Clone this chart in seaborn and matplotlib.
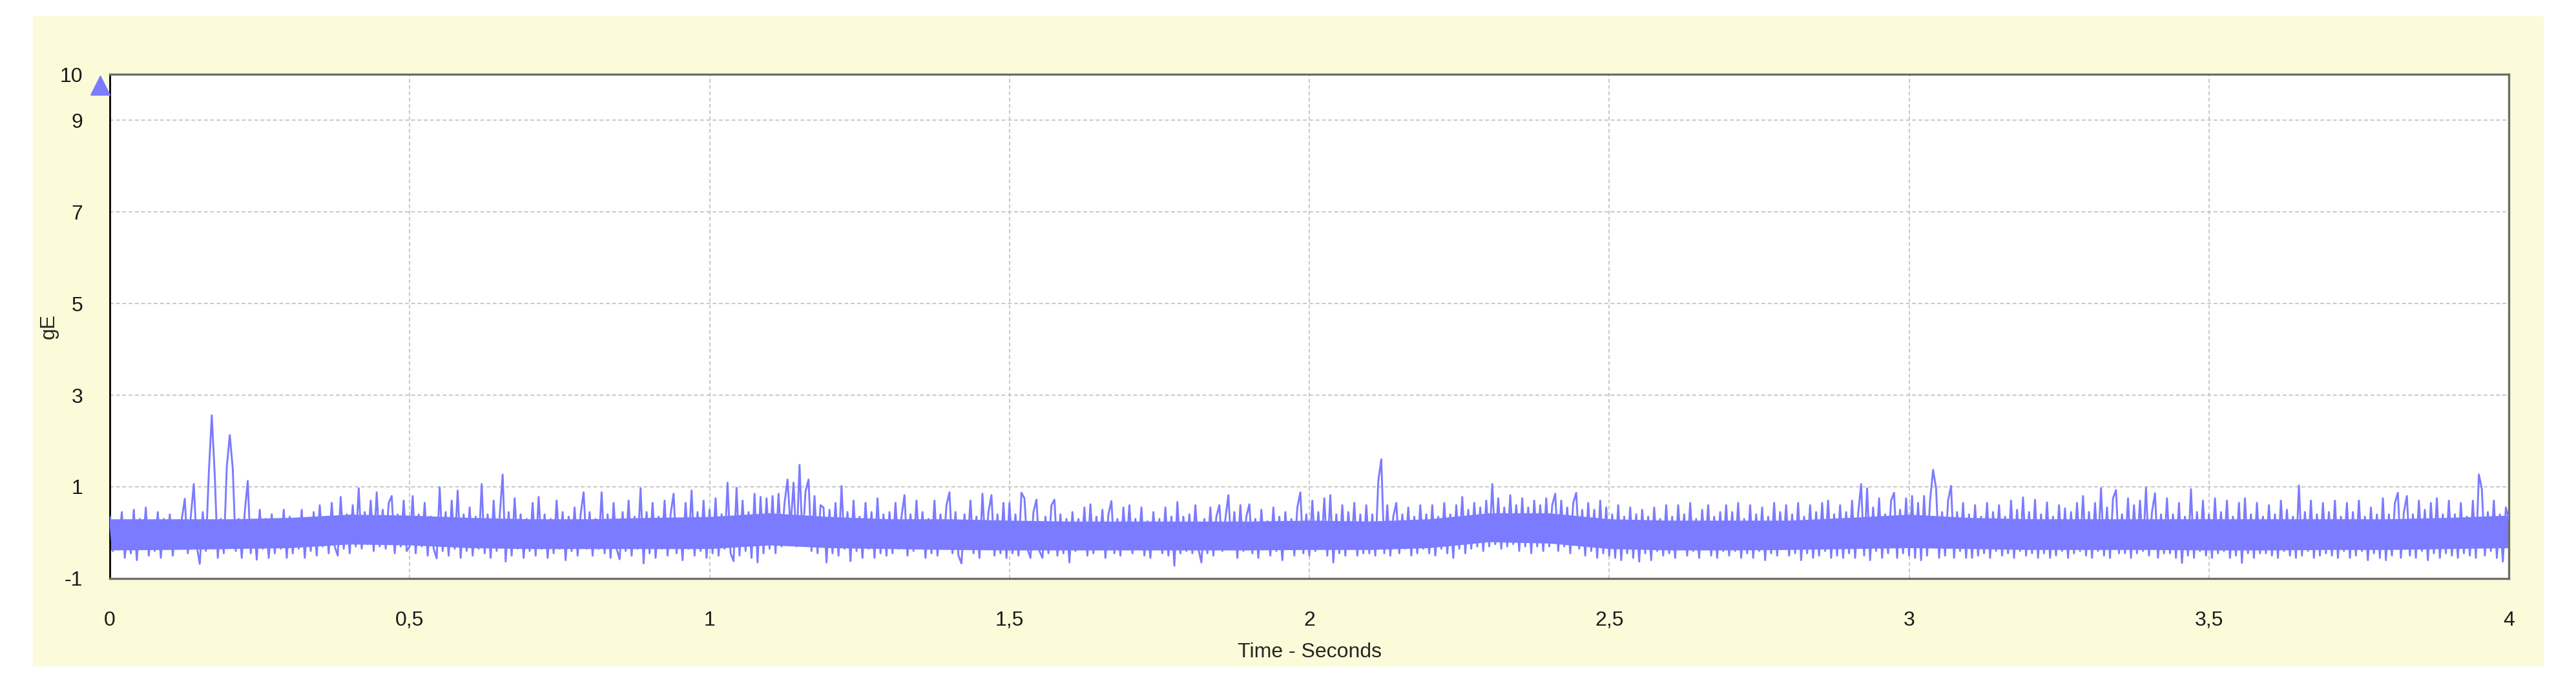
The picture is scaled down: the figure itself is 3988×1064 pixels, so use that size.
import numpy as np
import pandas as pd
import seaborn as sns
import matplotlib.pyplot as plt
from matplotlib.patches import Rectangle

# gE envelope signal, 0-4 s, one value every 5 ms
trace = [
    0.35, -0.40, 0.25, -0.30, 0.45, -0.55, 0.20, -0.45, 0.50, -0.60, 0.30, -0.35, 0.55, -0.50, 0.25, -0.40, 0.45, -0.55, 0.30, -0.35,  # 0.0
    0.40, -0.50, 0.20, -0.35, 0.30, 0.74, -0.45, 0.35, 1.06, -0.30, -0.68, 0.45, -0.40, 1.28, 2.56, 1.25, -0.55, 0.30, -0.45, 1.43,  # 0.1
    2.13, 1.40, -0.40, 0.30, -0.55, 0.45, 1.13, -0.45, 0.25, -0.59, 0.50, -0.35, 0.30, -0.55, 0.40, -0.45, 0.25, -0.35, 0.50, -0.55,  # 0.2
    0.35, -0.45, 0.25, -0.35, 0.50, -0.55, 0.30, -0.40, 0.45, -0.50, 0.60, -0.30, 0.35, -0.45, 0.65, -0.30, -0.50, 0.78, -0.35, 0.40,  # 0.3
    -0.45, 0.60, -0.30, 0.97, -0.35, 0.45, -0.25, 0.70, -0.40, 0.88, -0.30, 0.50, -0.35, 0.65, 0.80, -0.45, 0.40, -0.30, 0.70, -0.40,  # 0.4
    -0.30, 0.80, -0.45, 0.40, -0.30, 0.65, -0.50, 0.35, -0.35, -0.56, 0.99, -0.40, 0.45, -0.50, 0.70, -0.35, 0.92, -0.55, 0.40, -0.40,  # 0.5
    0.55, -0.50, 0.35, -0.35, 1.06, -0.45, 0.40, -0.55, 0.70, -0.40, 0.35, 1.27, -0.63, 0.45, -0.50, 0.75, -0.35, 0.40, -0.55, 0.30,  # 0.6
    -0.40, 0.65, -0.50, 0.78, -0.35, 0.40, -0.55, 0.30, -0.45, 0.70, -0.35, 0.45, -0.60, 0.35, -0.40, 0.55, -0.50, 0.40, 0.88, -0.35,  # 0.7
    0.45, -0.50, 0.30, -0.35, 0.88, -0.45, 0.40, -0.55, 0.65, -0.35, -0.58, 0.45, -0.40, 0.70, -0.50, 0.35, -0.35, 0.97, -0.67, 0.45,  # 0.8
    -0.45, 0.65, -0.55, 0.35, -0.35, 0.70, -0.50, 0.40, 0.85, -0.45, 0.30, -0.60, 0.65, -0.35, 0.92, -0.50, 0.45, -0.40, 0.70, -0.55,  # 0.9
    0.50, -0.45, 0.75, -0.50, 0.40, -0.35, 1.09, -0.45, -0.62, 0.98, -0.50, 0.70, -0.40, 0.45, -0.55, 0.85, -0.65, 0.78, -0.45, 0.75,  # 1.0
    -0.35, 0.80, -0.45, 0.85, -0.30, 0.65, 1.16, 0.10, 1.09, -0.30, 1.48, -0.20, 0.90, 1.16, -0.40, 0.80, -0.45, 0.60, 0.55, -0.65,  # 1.1
    0.50, -0.45, 0.65, -0.50, 1.02, -0.35, 0.45, -0.62, 0.70, -0.40, 0.35, -0.55, 0.65, -0.35, 0.45, -0.55, 0.75, -0.45, 0.40, -0.50,  # 1.2
    0.45, -0.45, 0.65, -0.35, 0.35, 0.82, -0.50, 0.40, -0.40, 0.70, -0.35, 0.45, -0.55, 0.30, -0.45, 0.70, -0.50, 0.40, -0.35, 0.60,  # 1.3
    0.88, -0.45, 0.45, -0.50, -0.67, 0.40, -0.35, 0.70, -0.45, 0.35, -0.55, 0.85, -0.35, 0.45, 0.82, -0.50, 0.40, -0.45, 0.65, -0.55,  # 1.4
    0.65, -0.45, 0.40, -0.50, 0.87, 0.75, -0.35, -0.55, 0.45, 0.72, -0.40, -0.55, 0.35, -0.45, 0.60, 0.72, -0.50, 0.40, -0.45, 0.30,  # 1.5
    -0.65, 0.45, -0.40, 0.30, -0.35, 0.55, -0.50, 0.62, -0.45, 0.35, -0.35, 0.50, -0.55, 0.40, 0.69, -0.45, 0.30, -0.50, 0.55, -0.35,  # 1.6
    0.60, -0.45, 0.30, -0.35, 0.55, -0.50, 0.25, -0.55, 0.45, -0.35, 0.30, -0.45, 0.55, -0.50, 0.35, -0.72, 0.67, -0.45, 0.35, -0.40,  # 1.7
    0.40, -0.45, 0.60, -0.35, -0.65, 0.30, -0.45, 0.55, -0.50, 0.35, 0.60, -0.40, 0.30, 0.82, -0.35, 0.45, -0.55, 0.60, -0.40, 0.35,  # 1.8
    0.62, -0.45, 0.30, -0.55, 0.50, -0.35, 0.25, -0.50, 0.55, -0.40, 0.35, -0.60, 0.45, -0.35, 0.30, -0.50, 0.55, 0.88, -0.45, 0.40,  # 1.9
    -0.50, 0.70, -0.40, 0.45, -0.35, 0.75, -0.50, 0.82, -0.65, 0.40, -0.45, 0.60, -0.50, 0.45, -0.35, 0.65, -0.50, 0.40, -0.45, 0.60,  # 2.0
    -0.45, 0.40, -0.50, 1.13, 1.60, -0.45, 0.60, -0.50, 0.35, 0.65, -0.45, 0.40, -0.35, 0.55, -0.50, 0.35, -0.45, 0.60, -0.35, 0.40,  # 2.1
    -0.45, 0.60, -0.50, 0.35, -0.35, 0.65, -0.45, 0.40, -0.55, 0.60, -0.35, 0.78, -0.45, 0.50, -0.35, 0.65, -0.30, 0.55, -0.40, 0.70,  # 2.2
    -0.30, 1.06, -0.25, 0.75, -0.35, 0.55, -0.30, 0.82, -0.25, 0.60, -0.40, 0.75, -0.30, 0.55, -0.45, 0.70, -0.30, 0.60, -0.40, 0.75,  # 2.3
    -0.30, 0.60, 0.85, -0.40, 0.70, -0.30, 0.55, -0.45, 0.65, 0.87, -0.35, 0.50, -0.50, 0.65, -0.40, 0.50, -0.55, 0.70, -0.45, 0.55,  # 2.4
    -0.50, 0.40, -0.55, 0.60, -0.60, 0.35, -0.45, 0.55, -0.55, 0.40, -0.63, 0.50, -0.45, 0.35, -0.60, 0.55, -0.40, 0.30, -0.50, 0.60,  # 2.5
    -0.45, 0.35, -0.55, 0.60, -0.35, 0.40, -0.50, 0.65, -0.40, 0.30, -0.55, 0.50, -0.35, 0.60, -0.50, 0.35, -0.55, 0.45, -0.40, 0.60,  # 2.6
    -0.50, 0.45, -0.40, 0.65, -0.55, 0.30, -0.45, 0.60, -0.55, 0.40, -0.40, 0.55, -0.60, 0.35, -0.45, 0.65, -0.50, 0.45, -0.35, 0.60,  # 2.7
    -0.50, 0.40, -0.45, 0.65, -0.60, 0.35, -0.45, 0.60, -0.55, 0.45, -0.50, 0.65, -0.40, 0.70, -0.55, 0.40, -0.50, 0.60, -0.55, 0.45,  # 2.8
    -0.45, 0.70, -0.55, 0.40, 1.06, -0.50, 0.97, -0.60, 0.55, -0.40, 0.75, -0.55, 0.40, -0.45, 0.70, 0.87, -0.55, 0.50, -0.45, 0.75,  # 2.9
    -0.50, 0.80, -0.55, 0.65, -0.60, 0.80, -0.50, 0.70, 1.37, 0.97, -0.55, 0.45, -0.50, 0.70, 1.02, -0.55, 0.45, -0.40, 0.65, -0.55,  # 3.0
    0.40, -0.55, 0.60, -0.50, 0.35, -0.45, 0.65, -0.55, 0.45, -0.40, 0.60, -0.50, 0.35, -0.45, 0.70, -0.55, 0.50, -0.40, 0.77, -0.50,  # 3.1
    0.45, -0.45, 0.72, -0.55, 0.40, -0.45, 0.66, -0.55, 0.35, -0.50, 0.60, -0.40, 0.53, -0.55, 0.45, -0.45, 0.65, -0.40, 0.80, -0.50,  # 3.2
    0.45, -0.55, 0.65, -0.40, 0.97, -0.50, 0.55, -0.55, 0.75, 0.93, -0.45, 0.40, -0.45, 0.75, -0.55, 0.60, -0.45, 0.70, -0.40, 0.98,  # 3.3
    -0.50, 0.45, 0.86, -0.55, 0.40, -0.45, 0.75, -0.45, 0.40, -0.55, 0.65, -0.66, 0.35, -0.50, 0.95, -0.55, 0.45, -0.40, 0.70, -0.50,  # 3.4
    0.40, -0.55, 0.75, -0.45, 0.45, -0.40, 0.70, -0.55, 0.35, -0.50, 0.65, -0.66, 0.75, -0.45, 0.40, -0.55, 0.65, -0.45, 0.35, -0.45,  # 3.5
    0.60, -0.50, 0.40, -0.55, 0.70, -0.40, 0.50, -0.50, 0.35, -0.55, 1.03, -0.50, 0.45, -0.40, 0.70, -0.55, 0.40, -0.50, 0.65, -0.45,  # 3.6
    0.45, -0.50, 0.70, -0.55, 0.35, -0.40, 0.65, -0.55, 0.45, -0.50, 0.70, -0.40, 0.35, -0.60, 0.55, -0.45, 0.40, -0.55, 0.75, -0.60,  # 3.7
    0.40, -0.50, 0.65, 0.87, -0.55, 0.45, 0.80, -0.50, 0.40, -0.55, 0.70, -0.40, 0.50, -0.60, 0.65, -0.45, 0.75, -0.55, 0.40, -0.45,  # 3.8
    0.70, -0.50, 0.40, -0.55, 0.65, -0.45, 0.35, -0.50, 0.70, -0.55, 1.27, 0.95, -0.50, 0.45, -0.40, 0.70, -0.55, 0.40, -0.63, 0.55,  # 3.9
    0.30,
]

# dense core of the band, every 0.1 s
band_hi = [0.30, 0.30, 0.30, 0.33, 0.40, 0.38, 0.33, 0.30, 0.30, 0.33, 0.35, 0.43, 0.35, 0.30, 0.30, 0.27, 0.25, 0.25, 0.25, 0.25, 0.27,
           0.25, 0.30, 0.43, 0.43, 0.30, 0.27, 0.27, 0.27, 0.33, 0.40, 0.33, 0.30, 0.30, 0.30, 0.30, 0.30, 0.30, 0.30, 0.33, 0.38]
band_lo = [-0.38, -0.37, -0.35, -0.33, -0.25, -0.27, -0.33, -0.35, -0.35, -0.35, -0.35, -0.27, -0.33, -0.35, -0.37, -0.38, -0.38,
           -0.38, -0.38, -0.38, -0.37, -0.37, -0.33, -0.20, -0.23, -0.35, -0.38, -0.38, -0.37, -0.35, -0.33, -0.35, -0.37, -0.37,
           -0.37, -0.38, -0.38, -0.37, -0.37, -0.35, -0.33]

x_ticks = [0, 0.5, 1, 1.5, 2, 2.5, 3, 3.5, 4]
x_tick_labels = ["0", "0,5", "1", "1,5", "2", "2,5", "3", "3,5", "4"]
y_ticks = [-1, 1, 3, 5, 7, 9, 10]
y_tick_labels = ["-1", "1", "3", "5", "7", "9", "10"]

df = pd.DataFrame({"t": np.linspace(0, 4, len(trace)), "gE": trace})
t_band = np.linspace(0, 4, len(band_hi))

blue = "#7B7BFF"

sns.set_style("white")
plt.rcParams['font.family'] = ['Liberation Sans', 'DejaVu Sans']

fig = plt.figure(figsize=(39.88, 10.64), dpi=100)
fig.patches.append(Rectangle((51 / 3988, 1 - 1031 / 1064), 3886 / 3988, 1006 / 1064,
                             transform=fig.transFigure, color="#FBFBDA", zorder=-10))
ax = fig.add_axes([0.04263, 0.1579, 0.9313, 0.7340])
ax.set_zorder(5)
ax.set_facecolor("white")

ax.fill_between(t_band, band_lo, band_hi, color=blue, lw=0, zorder=2)
sns.lineplot(data=df, x="t", y="gE", ax=ax, color=blue, lw=2.1, estimator=None, zorder=3)

ax.set_xlim(0, 4)
ax.set_ylim(-1, 10)
ax.set_xticks(x_ticks)
ax.set_xticklabels(x_tick_labels)
ax.set_yticks(y_ticks)
ax.set_yticklabels(y_tick_labels)
ax.tick_params(axis="both", length=0, labelsize=23, colors="#1a1a1a")
ax.tick_params(axis="y", pad=30)
ax.tick_params(axis="x", pad=36)
ax.grid(True, ls=(0, (3, 2)), color="#C8C8C8", lw=1.4)

for side in ["top", "right", "bottom"]:
    ax.spines[side].set_color("#6E6E66")
    ax.spines[side].set_linewidth(2.4)
ax.spines["left"].set_color("black")
ax.spines["left"].set_linewidth(2.0)

ax.set_xlabel("Time - Seconds", fontsize=23, labelpad=14)
ax.set_ylabel("gE", fontsize=23)
ax.yaxis.set_label_coords(-0.0215, 0.5)

# small scale marker at the top-left corner
ax.plot([-0.004], [0.978], transform=ax.transAxes, marker="^", ms=22, color=blue, clip_on=False, zorder=5)

fig.savefig("out.png", dpi=100)
